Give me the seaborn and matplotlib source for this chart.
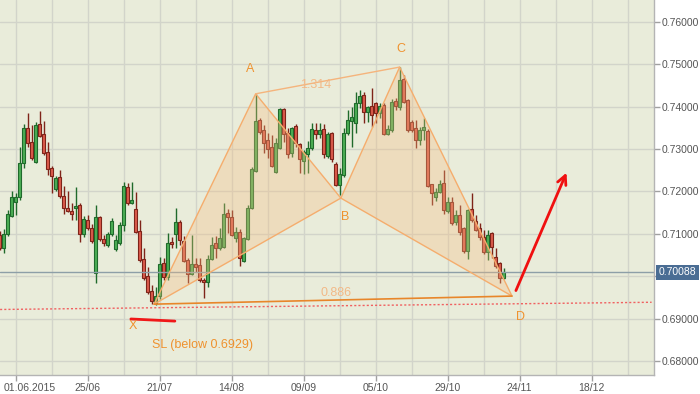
import matplotlib
matplotlib.use("Agg")
import matplotlib.pyplot as plt
import matplotlib.transforms as mtransforms
import numpy as np
import pandas as pd
import seaborn as sns

# daily candles, first one is 4 sessions before 01.06.2015
opens = [0.7097, 0.7067, 0.7100, 0.7142, 0.7175, 0.7187, 0.7267, 0.7349, 0.7317, 0.7269,
         0.7359, 0.7335, 0.7293, 0.7255, 0.7206, 0.7234, 0.7189, 0.7161, 0.7154, 0.7161,
         0.7168, 0.7100, 0.7132, 0.7114, 0.7008, 0.7140, 0.7088, 0.7074, 0.7100, 0.7064,
         0.7078, 0.7121, 0.7210, 0.7172, 0.7158, 0.7107, 0.7041, 0.7001, 0.6965, 0.6937,
         0.6953, 0.7031, 0.6998, 0.7081, 0.7100, 0.7128, 0.7083, 0.7038, 0.7005, 0.7029,
         0.7026, 0.6991, 0.6986, 0.7041, 0.7078, 0.7067, 0.7069, 0.7149, 0.7140, 0.7090,
         0.7104, 0.7036, 0.7088, 0.7161, 0.7248, 0.7368, 0.7345, 0.7321, 0.7305, 0.7246,
         0.7302, 0.7394, 0.7338, 0.7290, 0.7354, 0.7312, 0.7272, 0.7288, 0.7302, 0.7345,
         0.7335, 0.7347, 0.7283, 0.7338, 0.7264, 0.7215, 0.7239, 0.7338, 0.7366, 0.7361,
         0.7408, 0.7427, 0.7387, 0.7401, 0.7408, 0.7385, 0.7403, 0.7335, 0.7345, 0.7413,
         0.7399, 0.7465, 0.7415, 0.7363, 0.7349, 0.7321, 0.7345, 0.7342, 0.7217, 0.7187,
         0.7198, 0.7220, 0.7154, 0.7175, 0.7128, 0.7144, 0.7114, 0.7060, 0.7158, 0.7130,
         0.7114, 0.7092, 0.7057, 0.7102, 0.7045, 0.7031, 0.6996]
highs = [0.7107, 0.7111, 0.7156, 0.7201, 0.7196, 0.7305, 0.7359, 0.7385, 0.7356, 0.7363,
         0.7389, 0.7366, 0.7317, 0.7260, 0.7236, 0.7250, 0.7213, 0.7201, 0.7172, 0.7210,
         0.7172, 0.7142, 0.7144, 0.7123, 0.7168, 0.7142, 0.7097, 0.7104, 0.7137, 0.7097,
         0.7128, 0.7222, 0.7220, 0.7222, 0.7198, 0.7132, 0.7067, 0.7022, 0.6979, 0.6974,
         0.7045, 0.7043, 0.7102, 0.7092, 0.7161, 0.7132, 0.7095, 0.7043, 0.7097, 0.7043,
         0.7043, 0.6996, 0.7050, 0.7092, 0.7095, 0.7114, 0.7172, 0.7158, 0.7156, 0.7116,
         0.7111, 0.7092, 0.7168, 0.7257, 0.7430, 0.7373, 0.7356, 0.7338, 0.7333, 0.7326,
         0.7396, 0.7396, 0.7349, 0.7352, 0.7359, 0.7314, 0.7298, 0.7319, 0.7361, 0.7361,
         0.7361, 0.7359, 0.7340, 0.7340, 0.7269, 0.7255, 0.7349, 0.7392, 0.7399, 0.7434,
         0.7439, 0.7434, 0.7401, 0.7444, 0.7411, 0.7408, 0.7408, 0.7356, 0.7418, 0.7420,
         0.7493, 0.7474, 0.7418, 0.7368, 0.7368, 0.7352, 0.7373, 0.7347, 0.7217, 0.7208,
         0.7227, 0.7250, 0.7187, 0.7187, 0.7156, 0.7168, 0.7116, 0.7158, 0.7196, 0.7144,
         0.7125, 0.7109, 0.7109, 0.7104, 0.7067, 0.7033, 0.7019]
lows = [0.7062, 0.7055, 0.7095, 0.7140, 0.7144, 0.7180, 0.7255, 0.7305, 0.7274, 0.7267,
        0.7328, 0.7286, 0.7239, 0.7196, 0.7201, 0.7184, 0.7147, 0.7151, 0.7132, 0.7132,
        0.7081, 0.7092, 0.7109, 0.7078, 0.6984, 0.7083, 0.7071, 0.7069, 0.7095, 0.7060,
        0.7074, 0.7107, 0.7168, 0.7170, 0.7102, 0.7033, 0.6991, 0.6958, 0.6934, 0.6932,
        0.6946, 0.6991, 0.6991, 0.7067, 0.7067, 0.7074, 0.7033, 0.6984, 0.7003, 0.7010,
        0.6986, 0.6949, 0.6974, 0.7038, 0.7043, 0.7062, 0.7067, 0.7102, 0.7095, 0.7081,
        0.7024, 0.7033, 0.7085, 0.7158, 0.7246, 0.7335, 0.7290, 0.7279, 0.7257, 0.7243,
        0.7300, 0.7317, 0.7279, 0.7281, 0.7305, 0.7243, 0.7241, 0.7243, 0.7298, 0.7324,
        0.7326, 0.7279, 0.7279, 0.7269, 0.7213, 0.7191, 0.7234, 0.7333, 0.7305, 0.7338,
        0.7396, 0.7361, 0.7363, 0.7352, 0.7361, 0.7373, 0.7333, 0.7333, 0.7340, 0.7392,
        0.7392, 0.7408, 0.7340, 0.7340, 0.7302, 0.7309, 0.7321, 0.7210, 0.7168, 0.7177,
        0.7196, 0.7147, 0.7149, 0.7121, 0.7121, 0.7097, 0.7055, 0.7041, 0.7128, 0.7107,
        0.7085, 0.7052, 0.7038, 0.7043, 0.7019, 0.6984, 0.6993]
closes = [0.7067, 0.7100, 0.7147, 0.7187, 0.7187, 0.7267, 0.7349, 0.7314, 0.7279, 0.7356,
          0.7331, 0.7290, 0.7253, 0.7236, 0.7231, 0.7189, 0.7161, 0.7154, 0.7147, 0.7165,
          0.7100, 0.7135, 0.7114, 0.7083, 0.7140, 0.7088, 0.7078, 0.7100, 0.7130, 0.7085,
          0.7121, 0.7213, 0.7172, 0.7180, 0.7104, 0.7038, 0.6996, 0.6963, 0.6942, 0.6953,
          0.7029, 0.6998, 0.7078, 0.7076, 0.7128, 0.7085, 0.7036, 0.7005, 0.7029, 0.7022,
          0.6991, 0.6986, 0.7041, 0.7074, 0.7067, 0.7090, 0.7147, 0.7140, 0.7097, 0.7104,
          0.7043, 0.7090, 0.7161, 0.7253, 0.7366, 0.7340, 0.7314, 0.7300, 0.7260, 0.7314,
          0.7394, 0.7335, 0.7288, 0.7349, 0.7314, 0.7276, 0.7293, 0.7302, 0.7347, 0.7335,
          0.7345, 0.7288, 0.7335, 0.7276, 0.7215, 0.7241, 0.7338, 0.7368, 0.7375, 0.7408,
          0.7425, 0.7387, 0.7399, 0.7380, 0.7385, 0.7401, 0.7335, 0.7347, 0.7411, 0.7401,
          0.7463, 0.7411, 0.7345, 0.7345, 0.7321, 0.7345, 0.7352, 0.7213, 0.7196, 0.7198,
          0.7217, 0.7156, 0.7175, 0.7125, 0.7144, 0.7104, 0.7060, 0.7156, 0.7132, 0.7109,
          0.7092, 0.7057, 0.7097, 0.7069, 0.7024, 0.6996, 0.70088]
first_index = -4

date_ticks = [0, 18, 36, 54, 72, 90, 108, 126, 144]
date_labels = ["01.06.2015", "25/06", "21/07", "14/08", "09/09", "05/10", "29/10", "24/11", "18/12"]
price_ticks = [0.68, 0.69, 0.70, 0.71, 0.72, 0.73, 0.74, 0.75, 0.76]

# harmonic pattern points (session index, price)
pattern_names = ["X", "A", "B", "C", "D"]
pattern_x = [34.6, 60.0, 81.3, 96.0, 124.1]
pattern_y = [0.6934, 0.7430, 0.7184, 0.7493, 0.6953]
label_x = [29.3, 58.6, 82.3, 96.3, 126.3]
label_y = [0.6883, 0.7489, 0.7140, 0.7536, 0.6904]
ratio_labels = ["1.314", "0.886"]
ratio_x = [75.0, 80.1]
ratio_y = [0.7451, 0.6960]

last_price = 0.70088
support_x = [-3.9, 159.0]
support_y = [0.69214, 0.69384]
sl_x = [28.8, 39.8]
sl_y = [0.6899, 0.6894]
sl_text = "SL (below 0.6929)"
arrow_start = (124.8, 0.6960)
arrow_end = (138.0, 0.7250)

df = pd.DataFrame({"open": opens, "high": highs, "low": lows, "close": closes})
df["pos"] = np.arange(len(df)) + first_index
df["up"] = df["close"] >= df["open"]

sns.set_theme(style="white")
plt.rcParams["font.family"] = ["Liberation Sans", "DejaVu Sans"]

fig = plt.figure(figsize=(7, 3.94), dpi=100)
ax = fig.add_axes([0, 1 - 375 / 394, 654 / 700, 375 / 394])
ax.set_facecolor("#e9ecda")

for v in price_ticks:
    ax.axhline(v, color="#d2d4ca", lw=1, zorder=0)
for v in range(0, 160, 9):
    ax.axvline(v, color="#d2d4ca", lw=1, zorder=0)

edge = np.where(df["up"], "#1f6a2b", "#7e2419")
fill = np.where(df["up"], "#4cae55", "#dc5c4c")
ax.vlines(df["pos"], df["low"], df["high"], colors=edge, lw=1, zorder=2)
body_h = np.maximum((df["close"] - df["open"]).abs(), 0.00008)
ax.bar(df["pos"], body_h, bottom=np.minimum(df["open"], df["close"]), width=0.72,
       color=fill, edgecolor=edge, linewidth=0.8, zorder=2)

ax.axhline(last_price, color="#8d9fa7", lw=1, zorder=2.5)

# pattern triangles
tri1 = [0, 1, 2]
tri2 = [2, 3, 4]
for tri in (tri1, tri2):
    ax.fill([pattern_x[k] for k in tri], [pattern_y[k] for k in tri],
            color="#f6bd82", alpha=0.33, lw=0, zorder=3)
    xs = [pattern_x[k] for k in tri + [tri[0]]]
    ys = [pattern_y[k] for k in tri + [tri[0]]]
    ax.plot(xs, ys, color="#f5ad6d", lw=1, zorder=4)
ax.plot([pattern_x[1], pattern_x[3]], [pattern_y[1], pattern_y[3]], color="#f5b47c", lw=1, zorder=4)
sns.lineplot(x=[pattern_x[0], pattern_x[4]], y=[pattern_y[0], pattern_y[4]], ax=ax,
             color="#e8862a", lw=1.2, zorder=4)

for name, lx, ly in zip(pattern_names, label_x, label_y):
    ax.text(lx, ly, name, color="#ef922f", fontsize=9, ha="center", va="center", zorder=5)
for txt, rx, ry in zip(ratio_labels, ratio_x, ratio_y):
    ax.text(rx, ry, txt, color="#f2b987", fontsize=9, ha="center", va="center", zorder=5)

ax.plot(support_x, support_y, color="#f06060", lw=1, ls=(0, (1.5, 1.5)), zorder=4)
ax.plot(sl_x, sl_y, color="#f01818", lw=2, zorder=4)
ax.text(46.6, 0.6838, sl_text, color="#ef922f", fontsize=9, ha="center", va="center", zorder=5)
ax.annotate("", xy=arrow_end, xytext=arrow_start,
            arrowprops=dict(arrowstyle="->", color="#f01010", lw=2, mutation_scale=16), zorder=5)

ax.set_xlim(-3.925, 159.6)
ax.set_ylim(0.67669, 0.76512)

ax.yaxis.tick_right()
ax.set_yticks(price_ticks)
# the 0.70 label sits under the last-price box
ax.set_yticklabels(["" if abs(v - 0.70) < 1e-9 else f"{v:.5f}" for v in price_ticks])
ax.set_xticks(date_ticks)
ax.set_xticklabels(date_labels)
ax.tick_params(axis="both", colors="#a0a0a0", labelcolor="#555555", labelsize=7.5,
               length=4, width=1, direction="out", pad=1.5)
ax.tick_params(axis="x", bottom=True)
ax.tick_params(axis="y", right=True)
first = ax.get_xticklabels()[0]
first.set_horizontalalignment("left")
first.set_transform(first.get_transform() + mtransforms.ScaledTranslation(-12 / 100, 0, fig.dpi_scale_trans))

for side in ("top", "left"):
    ax.spines[side].set_visible(False)
for side in ("right", "bottom"):
    ax.spines[side].set_color("#b4b4b4")
    ax.spines[side].set_linewidth(1)

trans = mtransforms.blended_transform_factory(ax.transAxes, ax.transData)
ax.text(1.007, last_price, f"{last_price:.5f}", transform=trans, color="white", fontsize=7.5,
        ha="left", va="center", zorder=6,
        bbox=dict(boxstyle="square,pad=0.25", fc="#4a6d94", ec="none"))

fig.savefig("out.png", dpi=100, facecolor="white")
